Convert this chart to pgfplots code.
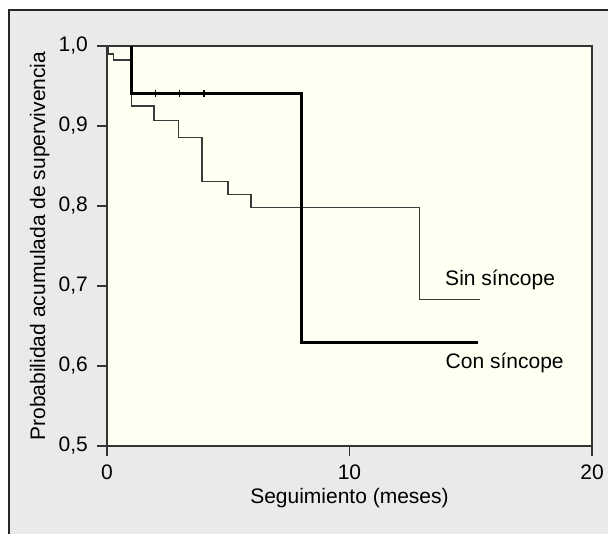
\documentclass[border=0pt]{standalone}
\usepackage{fontspec}
\setmainfont{Liberation Sans}
\usepackage{pgfplots}
\pgfplotsset{compat=1.18}

\definecolor{panelgray}{HTML}{EBEAE8}
\definecolor{cream}{HTML}{FFFFF2}
\definecolor{axisgray}{HTML}{333333}
\definecolor{thingray}{HTML}{3A3A3A}

\begin{document}
\begin{tikzpicture}[font=\fontsize{21bp}{25bp}\selectfont]
\useasboundingbox (0,0) rectangle (608bp,534bp);
\begin{scope}
  \clip (0,0) rectangle (608bp,534bp);
  \fill[panelgray] (9bp,-20bp) rectangle (630bp,524bp);
  \draw[black!85, line width=1.5bp] (9bp,-20bp) -- (9bp,524bp) -- (630bp,524bp);
\end{scope}
\begin{axis}[
    at={(107bp,88bp)}, anchor=south west,
    scale only axis,
    width=485bp, height=400bp,
    xmin=0, xmax=20,
    ymin=0.5, ymax=1.0,
    xtick={0,10,20},
    ytick={0.5,0.6,0.7,0.8,0.9,1.0},
    tick align=outside,
    major tick length=10bp,
    xtick pos=left, ytick pos=left,
    axis line style={draw=axisgray, line width=1.2bp},
    every tick/.style={axisgray, line width=1.2bp},
    axis background/.style={fill=cream},
    /pgf/number format/assume math mode=true,
    yticklabel style={/pgf/number format/.cd, fixed, fixed zerofill, precision=1, use comma, assume math mode=true},
    every tick label/.append style={inner sep=0bp},
    xticklabel shift=9bp, yticklabel shift=9bp,
    xlabel={Seguimiento (meses)},
    ylabel={Probabilidad acumulada de supervivencia},
    every axis x label/.style={at={(axis description cs:0.5,-0.131)}, anchor=center},
    every axis y label/.style={at={(axis description cs:-0.139,0.5)}, anchor=center, rotate=90},
]
% Sin sincope
\addplot[const plot, thingray, line width=1.3bp] coordinates {
    (0,1.0) (0.05,0.99) (0.26,0.9825) (1,0.925) (1.94,0.907) (2.94,0.886)
    (3.92,0.831) (4.99,0.814) (5.94,0.798) (12.9,0.683) (15.38,0.683)
};
% Con sincope
\addplot[const plot, black, line width=3bp] coordinates {
    (1,1.0) (1,0.941) (8,0.629) (15.29,0.629)
};
% censored
\addplot[only marks, mark=|, mark size=3.5bp, black, mark options={line width=1.2bp}] coordinates {
    (2,0.941) (3,0.941) (4,0.941)
};
\node[anchor=base west, inner sep=0pt] at (axis cs:13.94,0.70) {Sin síncope};
\node[anchor=base west, inner sep=0pt] at (axis cs:13.96,0.597) {Con síncope};
\end{axis}
\end{tikzpicture}
\end{document}
